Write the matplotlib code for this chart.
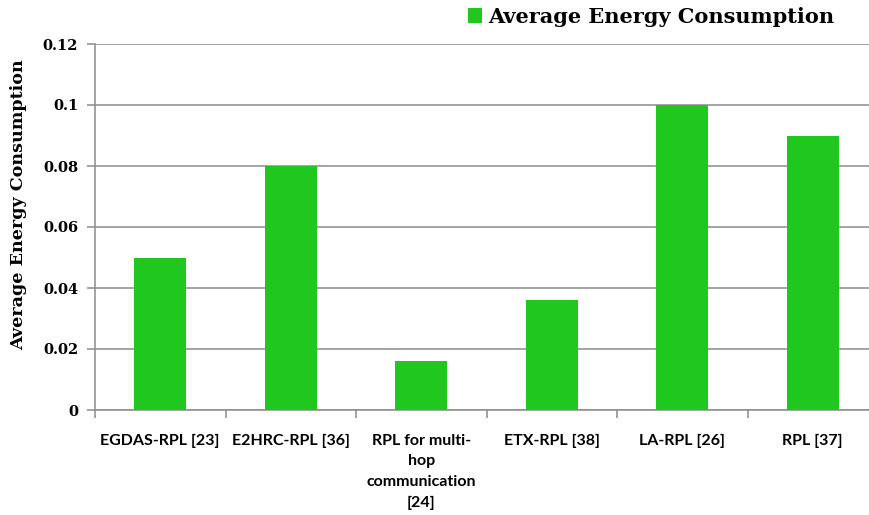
import matplotlib
matplotlib.use("Agg")
import matplotlib.pyplot as plt
import numpy as np
from matplotlib.patches import Patch

categories = ["EGDAS-RPL [23]", "E2HRC-RPL [36]", "RPL for multi-\nhop\ncommunication\n[24]",
              "ETX-RPL [38]", "LA-RPL [26]", "RPL [37]"]
values = [0.05, 0.08, 0.016, 0.036, 0.10, 0.09]
yticks = [0, 0.02, 0.04, 0.06, 0.08, 0.10, 0.12]
ytick_labels = ["0", "0.02", "0.04", "0.06", "0.08", "0.1", "0.12"]
series_name = "Average Energy Consumption"

W, H = 869, 515
fig = plt.figure(figsize=(W/100, H/100), dpi=100)
left, right, bottom, top = 95, 878, 410, 44
ax = fig.add_axes([left/W, (H-bottom)/H, (right-left)/W, (bottom-top)/H])

bar_color = "#1fc71f"
grid_color = "#8c8c8c"
x = np.arange(len(categories))
ax.bar(x, values, width=0.4, color=bar_color, zorder=3)
ax.set_xlim(-0.5, len(categories)-0.5)
ax.set_ylim(0, 0.12)
ax.set_yticks(yticks)
ax.set_yticklabels(ytick_labels, fontfamily="DejaVu Serif", fontweight="bold", fontsize=10.5)
ax.yaxis.grid(True, color=grid_color, linewidth=1.1, zorder=0)
ax.set_axisbelow(True)

ax.set_xticks(x)
ax.set_xticklabels(categories, fontfamily="Lato", fontweight="bold", fontsize=11.5, linespacing=1.6)
ax.tick_params(axis="x", which="major", length=0, pad=17)
ax.set_xticks(np.arange(-0.5, len(categories), 1.0), minor=True)
ax.tick_params(axis="x", which="minor", length=6, color=grid_color, width=1.1)
ax.tick_params(axis="y", length=6, color=grid_color, width=1.1, pad=6)

for s in ["top", "right"]:
    ax.spines[s].set_visible(False)
for s in ["left", "bottom"]:
    ax.spines[s].set_color(grid_color)
    ax.spines[s].set_linewidth(1.1)

ax.set_ylabel(series_name, fontfamily="DejaVu Serif", fontweight="bold", fontsize=12.6)
ax.yaxis.set_label_coords(-68/(right-left), 0.56)

handle = Patch(facecolor=bar_color, edgecolor="none")
fig.legend([handle], [series_name], loc="center left", bbox_to_anchor=(449/W, 1-17/H),
           frameon=False, handlelength=0.7, handleheight=0.7, handletextpad=0.3,
           prop={"family": "DejaVu Serif", "weight": "bold", "size": 15})

fig.savefig("out.png", dpi=100)
